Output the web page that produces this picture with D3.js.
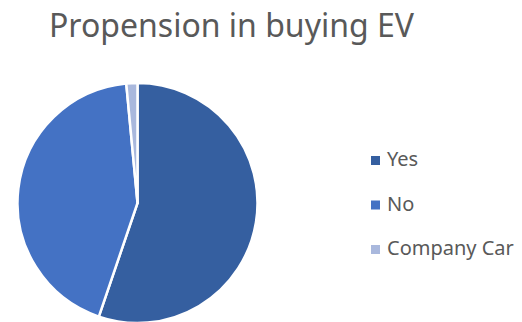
<!DOCTYPE html>
<html>
<head>
<meta charset="utf-8">
<script src="https://cdn.jsdelivr.net/npm/d3@7"></script>
<style>
  html, body { margin: 0; padding: 0; background: #fff; }
  svg { display: block; }
  text { font-family: "Noto Sans", "Open Sans", sans-serif; fill: #595959; }
</style>
</head>
<body>
<svg id="chart" width="522" height="322"></svg>
<script>
// Survey answers: how many respondents would buy an EV
const categories = ["Yes", "No", "Company Car"];
const counts = [37, 29, 1];
const colors = ["#355FA0", "#4472C4", "#A9B8DD"];

const svg = d3.select("#chart");

svg.append("text")
  .attr("x", 231.5)
  .attr("y", 37)
  .attr("text-anchor", "middle")
  .style("font-size", "32px")
  .text("Propension in buying EV");

const data = categories.map((c, i) => ({ category: c, value: counts[i] }));

const pie = d3.pie().sort(null).value(d => d.value);
const arc = d3.arc().innerRadius(0).outerRadius(120);
const color = d3.scaleOrdinal().domain(categories).range(colors);

const g = svg.append("g").attr("transform", "translate(137.5,203)");
g.selectAll("path")
  .data(pie(data))
  .join("path")
  .attr("d", arc)
  .attr("fill", d => color(d.data.category))
  .attr("stroke", "#fff")
  .attr("stroke-width", 2.5)
  .attr("stroke-linejoin", "round");

// Legend
const legendY = d3.scalePoint().domain(categories).range([166, 255]);
const legend = svg.append("g").selectAll("g")
  .data(categories)
  .join("g")
  .attr("transform", d => `translate(371,${legendY(d)})`);
legend.append("rect")
  .attr("x", 0).attr("y", -10)
  .attr("width", 9).attr("height", 9)
  .attr("fill", d => color(d));
legend.append("text")
  .attr("x", 16).attr("y", 0)
  .style("font-size", "20px")
  .text(d => d);
</script>
</body>
</html>
